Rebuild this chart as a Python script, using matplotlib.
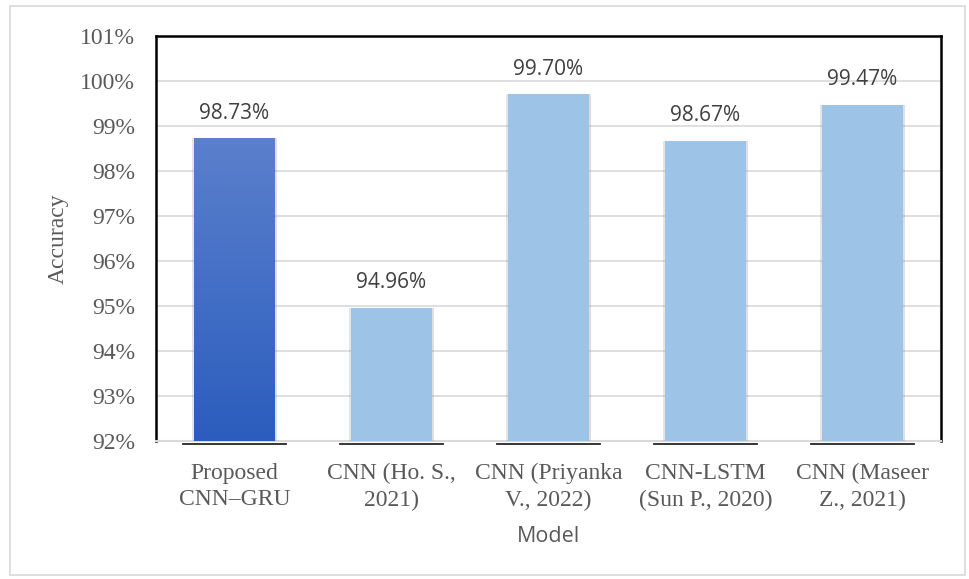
import matplotlib.pyplot as plt
import matplotlib.transforms as mtransforms
import matplotlib.patheffects as pe
from matplotlib.colors import LinearSegmentedColormap
import numpy as np

# Data
models = ['Proposed\nCNN\u2013GRU', 'CNN (Ho. S.,\n2021)', 'CNN (Priyanka\nV., 2022)',
          'CNN-LSTM\n(Sun P., 2020)', 'CNN (Maseer\nZ., 2021)']
accuracy = [98.73, 94.96, 99.70, 98.67, 99.47]
value_labels = ['98.73%', '94.96%', '99.70%', '98.67%', '99.47%']
ticks = [92, 93, 94, 95, 96, 97, 98, 99, 100, 101]

grey = '#595959'
serif = ['Liberation Serif', 'DejaVu Serif']
sans = ['Open Sans', 'DejaVu Sans']

fig = plt.figure(figsize=(9.69, 5.79), dpi=100)
ax = fig.add_axes([156 / 969, 1 - 441 / 579, (941 - 156) / 969, (441 - 36) / 579])

# outer frame
fig.patches.append(plt.Rectangle((10 / 969, 4 / 579), 955 / 969, 569 / 579,
                                 transform=fig.transFigure, fill=False,
                                 edgecolor='#D9D9D9', linewidth=1.2))

x = np.arange(len(models))
width = 0.51
bottom = ticks[0]

shadow = [pe.SimplePatchShadow(offset=(1.5, 0), shadow_rgbFace='#808080', alpha=0.25),
          pe.SimplePatchShadow(offset=(-1.5, 0), shadow_rgbFace='#808080', alpha=0.2),
          pe.Normal()]
bars = ax.bar(x, np.array(accuracy) - bottom, width, bottom=bottom,
              color='#9DC3E6', zorder=3)
for b in bars:
    b.set_path_effects(shadow)

# gradient fill on the first bar
b0 = bars[0]
b0.set_facecolor('none')
grad = np.linspace(0, 1, 256).reshape(-1, 1)
cmap = LinearSegmentedColormap.from_list('g', ['#2B5DBE', '#5B80CC'])
bx, by = b0.get_x(), b0.get_y()
ax.imshow(grad, cmap=cmap, origin='lower', aspect='auto',
          extent=[bx, bx + b0.get_width(), by, by + b0.get_height()], zorder=3)
ax.set_aspect('auto')

for xi, v, lab in zip(x, accuracy, value_labels):
    ax.annotate(lab, (xi, v), xytext=(0, 18), textcoords='offset points',
                ha='center', va='center', fontsize=15, color='#404040', family=sans)

# dark segments under each category
trans = mtransforms.blended_transform_factory(ax.transData, ax.transAxes)
for xi in x:
    ax.plot([xi - 0.33, xi + 0.33], [-0.008, -0.008], color='#262626', lw=1.3,
            transform=trans, clip_on=False, zorder=4)

ax.set_xlim(-0.5, len(models) - 0.5)
ax.set_ylim(ticks[0], ticks[-1])
ax.set_yticks(ticks)
ax.set_yticklabels([f'{t}%' for t in ticks])
ax.set_xticks(x)
ax.set_xticklabels(models)
ax.grid(axis='y', color='#D9D9D9', linewidth=1.2, zorder=0)
ax.tick_params(length=0)
ax.tick_params(axis='y', pad=15, labelsize=17, labelcolor=grey)
ax.tick_params(axis='x', pad=16, labelsize=17, labelcolor=grey)
for lab in ax.get_xticklabels() + ax.get_yticklabels():
    lab.set_family(serif)
for lab in ax.get_xticklabels():
    lab.set_linespacing(1.32)

for s in ['top', 'left', 'right']:
    ax.spines[s].set_color('black')
    ax.spines[s].set_linewidth(1.8)
ax.spines['bottom'].set_color('#D9D9D9')
ax.spines['bottom'].set_linewidth(1.5)

ax.set_xlabel('Model', fontsize=15.5, color=grey, family=sans, labelpad=11)
ax.set_ylabel('Accuracy', fontsize=17, color=grey, family=serif, labelpad=8)

fig.savefig('out.png', dpi=100)
